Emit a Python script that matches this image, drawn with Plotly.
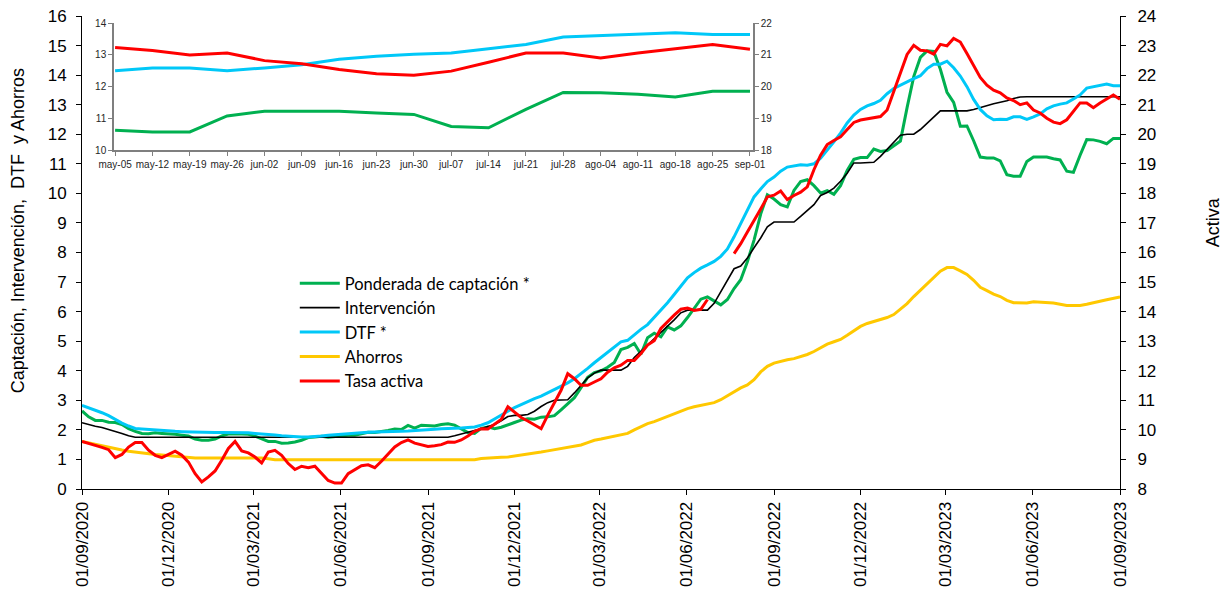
import pandas as pd
import plotly.graph_objects as go

# ---------------- data (weekly) ----------------
fechas = pd.date_range('2020-09-01', '2023-09-01', periods=157)

ponderada = [
    2.64, 2.44, 2.32, 2.32, 2.26, 2.25, 2.18, 2.04, 1.95, 1.88,
    1.87, 1.90, 1.88, 1.87, 1.85, 1.82, 1.79, 1.69, 1.65, 1.65,
    1.69, 1.80, 1.86, 1.87, 1.87, 1.85, 1.79, 1.69, 1.61, 1.61,
    1.55, 1.56, 1.59, 1.65, 1.74, 1.76, 1.78, 1.75, 1.77, 1.81,
    1.82, 1.82, 1.88, 1.92, 1.91, 1.94, 1.98, 2.03, 2.01, 2.15,
    2.06, 2.16, 2.14, 2.13, 2.18, 2.21, 2.16, 2.03, 1.91, 1.88,
    2.05, 2.10, 2.04, 2.09, 2.16, 2.25, 2.33, 2.38, 2.36, 2.43,
    2.44, 2.48, 2.68, 2.90, 3.09, 3.43, 3.78, 3.94, 4.00, 4.12,
    4.28, 4.72, 4.79, 4.92, 4.56, 5.12, 5.27, 5.15, 5.48, 5.38,
    5.52, 5.80, 6.13, 6.42, 6.50, 6.35, 6.23, 6.41, 6.78, 7.08,
    7.69, 8.42, 9.30, 9.95, 9.81, 9.62, 9.54, 10.10, 10.40, 10.46,
    10.26, 10.01, 10.09, 9.97, 10.26, 10.78, 11.15, 11.21, 11.21, 11.50,
    11.42, 11.45, 11.60, 11.77, 12.90, 13.95, 14.60, 14.82, 14.80, 14.20,
    13.42, 13.08, 12.27, 12.28, 11.78, 11.23, 11.20, 11.20, 11.10,
    10.63, 10.58, 10.58, 11.08, 11.23, 11.23, 11.23, 11.17, 11.13, 10.75,
    10.71, 11.29, 11.82, 11.81, 11.76, 11.68, 11.86, 11.86,
]

intervencion = [
    2.24, 2.17, 2.12, 2.08, 2.02, 1.95, 1.88, 1.80, 1.75, 1.75,
    1.75, 1.75, 1.75, 1.75, 1.75, 1.75, 1.75, 1.75, 1.75, 1.75,
    1.75, 1.75, 1.75, 1.75, 1.75, 1.75, 1.75, 1.75, 1.75, 1.75,
    1.75, 1.75, 1.75, 1.75, 1.75, 1.75, 1.75, 1.75, 1.75, 1.75,
    1.75, 1.75, 1.75, 1.75, 1.75, 1.75, 1.75, 1.75, 1.75, 1.75,
    1.75, 1.75, 1.75, 1.75, 1.75, 1.75,
    1.80, 1.86, 1.91, 1.96, 2.04, 2.11, 2.18, 2.31, 2.45, 2.49,
    2.49, 2.52, 2.63, 2.79, 2.92, 3.00, 3.02, 3.02, 3.25, 3.51,
    3.76, 3.92, 4.02, 4.02, 4.02, 4.02, 4.15, 4.45, 4.66, 4.87,
    5.08, 5.28, 5.50, 5.72, 5.96, 6.05, 6.05, 6.05, 6.05, 6.28,
    6.68, 7.09, 7.45, 7.54, 7.81, 8.16, 8.49, 8.87, 9.03, 9.03,
    9.03, 9.03, 9.22, 9.43, 9.62, 9.93, 10.03, 10.18, 10.41, 10.68,
    11.03, 11.03, 11.03, 11.05, 11.25, 11.50, 11.75, 11.97, 12.00, 12.00,
    12.16, 12.38, 12.60, 12.79, 12.79, 12.79, 12.79, 12.79, 12.84, 12.91,
    12.98, 13.03, 13.08, 13.13, 13.21, 13.26,
    13.27, 13.27, 13.27, 13.27, 13.27, 13.27, 13.27, 13.27, 13.27, 13.27,
    13.27, 13.27, 13.27, 13.27, 13.27,
]

dtf = [
    2.83, 2.75, 2.67, 2.58, 2.48, 2.35, 2.23, 2.13, 2.05, 2.03,
    2.01, 2.00, 1.98, 1.96, 1.95, 1.94, 1.93, 1.92, 1.91, 1.91,
    1.91, 1.91, 1.91, 1.91, 1.91, 1.90, 1.88, 1.87, 1.85, 1.83,
    1.80, 1.78, 1.77, 1.76, 1.76, 1.77, 1.79, 1.82, 1.84, 1.86,
    1.87, 1.89, 1.91, 1.92, 1.93, 1.93, 1.93, 1.94, 1.95, 1.96,
    1.97, 1.98, 1.99, 2.02, 2.04, 2.04, 2.05, 2.06, 2.08, 2.10,
    2.16, 2.24, 2.37, 2.51, 2.63, 2.75, 2.86, 2.97, 3.06, 3.14,
    3.25, 3.36, 3.47, 3.59, 3.73, 3.89, 4.08, 4.27, 4.44, 4.62,
    4.80, 4.98, 5.03, 5.23, 5.40, 5.56, 5.80, 6.05, 6.30, 6.58,
    6.87, 7.14, 7.32, 7.47, 7.58, 7.70, 7.87, 8.12, 8.53, 8.98,
    9.47, 9.88, 10.15, 10.40, 10.55, 10.75, 10.89, 10.94, 10.97, 10.95,
    11.00, 11.19, 11.45, 11.74, 12.04, 12.38, 12.65, 12.84, 12.96, 13.04,
    13.15, 13.37, 13.55, 13.67, 13.77, 13.88, 13.98, 14.22, 14.37, 14.37,
    14.47, 14.25, 13.97, 13.61, 13.18, 12.84, 12.62, 12.49, 12.51,
    12.50, 12.59, 12.59, 12.50, 12.59, 12.69, 12.86, 12.96, 13.02, 13.06,
    13.19, 13.33, 13.56, 13.60, 13.65, 13.70, 13.64, 13.64,
]

ahorros = [
    1.61, 1.56, 1.50, 1.45, 1.40, 1.36, 1.32, 1.28, 1.25, 1.21,
    1.20, 1.17, 1.15, 1.13, 1.10, 1.08, 1.06, 1.05, 1.05, 1.05,
    1.05, 1.05, 1.05, 1.05, 1.05, 1.05, 1.05, 1.05, 1.02, 0.99,
    0.99, 0.99, 0.99, 0.99, 0.99, 0.99, 0.99, 0.97, 0.97, 0.97,
    0.97, 0.97, 0.97, 0.97, 0.97, 0.97, 0.97, 0.97, 0.97, 0.97,
    0.97, 0.97, 0.97, 0.97, 0.97, 0.97, 0.97, 0.97, 0.97,
    0.99, 1.03, 1.05, 1.06, 1.07, 1.08, 1.11, 1.14, 1.17, 1.20,
    1.25, 1.29, 1.33, 1.37, 1.40, 1.43, 1.49, 1.57, 1.65, 1.69,
    1.74, 1.80, 1.84, 1.88, 2.00, 2.10, 2.21, 2.28, 2.37, 2.45,
    2.55, 2.64, 2.72, 2.78, 2.82, 2.86, 2.92, 3.02, 3.15, 3.29,
    3.42, 3.52, 3.70, 3.96, 4.15, 4.26, 4.32, 4.37, 4.41, 4.47,
    4.55, 4.65, 4.79, 4.90, 4.98, 5.06, 5.20, 5.34, 5.50, 5.60,
    5.67, 5.72, 5.80, 5.90, 6.08, 6.27, 6.51, 6.73, 6.96, 7.18,
    7.37, 7.49, 7.49, 7.38, 7.26, 7.06, 6.82, 6.71, 6.59, 6.51,
    6.38, 6.30, 6.29, 6.29, 6.33, 6.32, 6.29, 6.29, 6.25, 6.21,
    6.21, 6.21, 6.25, 6.29, 6.35, 6.40, 6.45, 6.50,
]

# Tasa activa (right axis)
activa = [
    9.61, 9.55, 9.48, 9.41, 9.33, 9.06, 9.17, 9.42, 9.57, 9.57,
    9.31, 9.14, 9.06, 9.17, 9.28, 9.14, 8.91, 8.52, 8.24, 8.41,
    8.61, 8.97, 9.37, 9.61, 9.29, 9.22, 9.08, 8.88, 9.25, 9.31,
    9.14, 8.86, 8.66, 8.77, 8.72, 8.77, 8.54, 8.29, 8.20, 8.20,
    8.52, 8.66, 8.79, 8.82, 8.72, 8.94, 9.17, 9.42, 9.57, 9.66,
    9.55, 9.50, 9.44, 9.46, 9.50, 9.59, 9.58, 9.66, 9.79, 9.95,
    10.04, 10.03, 10.20, 10.35, 10.78, 10.60, 10.42, 10.30, 10.16, 10.04,
    10.50, 10.90, 11.34, 11.90, 11.73, 11.51, 11.51, 11.62, 11.73, 11.95,
    12.10, 12.19, 12.35, 12.35, 12.58, 12.87, 13.02, 13.43, 13.66, 13.88,
    14.08, 14.12, 14.04, 14.08, 14.41, None, None, None, 15.96, 16.30,
    16.69, 17.06, 17.47, 17.88, 17.94, 18.08, 17.79, 17.93, 18.04, 18.22,
    18.80, 19.29, 19.65, 19.79, 19.91, 20.16, 20.40, 20.48, 20.52, 20.58,
    20.60, 20.82, 21.45, 22.05, 22.70, 23.01, 22.84, 22.82, 22.71, 23.04,
    22.99, 23.24, 23.12, 22.73, 22.33, 21.92, 21.66, 21.49, 21.40,
    21.23, 21.14, 21.00, 21.06, 20.82, 20.72, 20.54, 20.41, 20.36, 20.49,
    20.77, 21.06, 21.06, 20.90, 21.06, 21.19, 21.33, 21.18,
]

x_ticks = ['2020-09-01', '2020-12-01', '2021-03-01', '2021-06-01', '2021-09-01',
           '2021-12-01', '2022-03-01', '2022-06-01', '2022-09-01', '2022-12-01',
           '2023-03-01', '2023-06-01', '2023-09-01']
x_ticktext = ['01/09/2020', '01/12/2020', '01/03/2021', '01/06/2021', '01/09/2021',
              '01/12/2021', '01/03/2022', '01/06/2022', '01/09/2022', '01/12/2022',
              '01/03/2023', '01/06/2023', '01/09/2023']

inset_labels = ['may-05', 'may-12', 'may-19', 'may-26', 'jun-02', 'jun-09', 'jun-16',
                'jun-23', 'jun-30', 'jul-07', 'jul-14', 'jul-21', 'jul-28', 'ago-04',
                'ago-11', 'ago-18', 'ago-25', 'sep-01']
n_in = len(inset_labels)
inset_idx = list(range(n_in))

# ---------------- figure ----------------
C_GREEN = '#00B050'
C_BLUE = '#00C8F8'
C_YELLOW = '#FFC800'
C_RED = '#FF0000'

fig = go.Figure()
fig.add_trace(go.Scatter(x=fechas, y=ponderada, name='Ponderada de captación *', mode='lines',
                         line=dict(color=C_GREEN, width=3), xaxis='x', yaxis='y'))
fig.add_trace(go.Scatter(x=fechas, y=intervencion, name='Intervención', mode='lines',
                         line=dict(color='black', width=1.6), xaxis='x', yaxis='y'))
fig.add_trace(go.Scatter(x=fechas, y=dtf, name='DTF *', mode='lines',
                         line=dict(color=C_BLUE, width=3), xaxis='x', yaxis='y'))
fig.add_trace(go.Scatter(x=fechas, y=ahorros, name='Ahorros', mode='lines',
                         line=dict(color=C_YELLOW, width=3), xaxis='x', yaxis='y'))
fig.add_trace(go.Scatter(x=fechas, y=activa, name='Tasa activa', mode='lines',
                         line=dict(color=C_RED, width=3), connectgaps=False,
                         xaxis='x', yaxis='y2'))

# inset: last weeks
fig.add_trace(go.Scatter(x=inset_idx, y=ponderada[-n_in:], mode='lines', showlegend=False,
                         line=dict(color=C_GREEN, width=3), xaxis='x2', yaxis='y3'))
fig.add_trace(go.Scatter(x=inset_idx, y=dtf[-n_in:], mode='lines', showlegend=False,
                         line=dict(color=C_BLUE, width=3), xaxis='x2', yaxis='y3'))
fig.add_trace(go.Scatter(x=inset_idx, y=activa[-n_in:], mode='lines', showlegend=False,
                         line=dict(color=C_RED, width=3), xaxis='x2', yaxis='y4'))

FONT = 'Liberation Sans, Arial, sans-serif'
main_axis = dict(showline=True, linecolor='black', linewidth=1, ticks='outside',
                 tickcolor='black', ticklen=5, showgrid=False, zeroline=False,
                 automargin=False)
inset_axis = dict(showline=True, linecolor='#7f7f7f', linewidth=1.5, ticks='outside',
                  tickcolor='#7f7f7f', ticklen=4, showgrid=False, zeroline=False,
                  automargin=False,
                  tickfont=dict(family=FONT, size=10, color='#262626'))

fig.update_layout(
    template='none',
    width=1230, height=591,
    margin=dict(l=82, r=110, t=16, b=102, autoexpand=False),
    paper_bgcolor='white', plot_bgcolor='white',
    font=dict(family=FONT, size=17, color='black'),
    xaxis=dict(type='date', range=['2020-09-01', '2023-09-01'], tickvals=x_ticks,
               ticktext=x_ticktext, tickangle=-90, anchor='y', domain=[0, 1],
               tickfont=dict(size=17), **main_axis),
    yaxis=dict(range=[0, 16], dtick=1, tickfont=dict(size=17), ticklabelstandoff=6,
               **main_axis),
    yaxis2=dict(range=[8, 24], dtick=1, overlaying='y', side='right', anchor='x',
                tickfont=dict(size=17), ticklabelstandoff=8, **main_axis),
    xaxis2=dict(domain=[0.0308, 0.6464], anchor='y3', range=[-0.03, n_in - 1 + 0.08],
                tickvals=inset_idx, ticktext=inset_labels, tickangle=0, **inset_axis),
    yaxis3=dict(domain=[0.716, 0.985], anchor='x2', range=[10, 14], dtick=1, **inset_axis),
    yaxis4=dict(overlaying='y3', side='right', anchor='x2', range=[18, 22], dtick=1,
                **inset_axis),
    showlegend=True,
    legend=dict(x=0.205, y=0.4715, xanchor='left', yanchor='top', itemwidth=40,
                font=dict(family='Lato, Open Sans, sans-serif', size=16.5, color='black'),
                bgcolor='rgba(0,0,0,0)', borderwidth=0),
    annotations=[
        dict(text='Captación, Intervención,\u00a0 DTF\u00a0 y Ahorros', xref='paper', yref='paper',
             x=-0.0617, y=0.547, textangle=-90, showarrow=False,
             font=dict(family=FONT, size=18, color='black'), xanchor='center', yanchor='middle'),
        dict(text='Activa', xref='paper', yref='paper', x=1.0896, y=0.5638, textangle=-90,
             showarrow=False, font=dict(family=FONT, size=18, color='black'),
             xanchor='center', yanchor='middle'),
    ],
)

fig.write_html('out.html', config={'displayModeBar': False},
               post_script="document.body.style.margin='0';")
